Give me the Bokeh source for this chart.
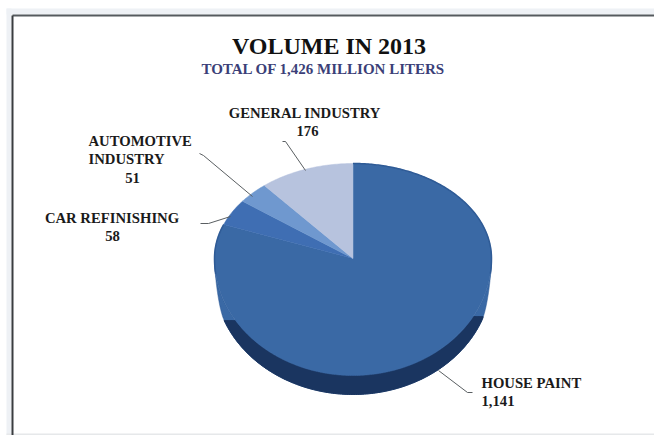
import numpy as np
from bokeh.core.properties import value
from bokeh.embed import file_html
from bokeh.models import Range1d
from bokeh.plotting import figure
from bokeh.resources import INLINE

# Annual paint volume by segment, million liters
categories = ["HOUSE PAINT", "CAR REFINISHING", "AUTOMOTIVE INDUSTRY", "GENERAL INDUSTRY"]
volumes = [1141, 58, 51, 176]
slice_colors = ["#3a69a5", "#3f6eb3", "#6f98cf", "#b7c3de"]
title_text = "VOLUME IN 2013"
subtitle_text = "TOTAL OF 1,426 MILLION LITERS"

W, H = 654, 435
CX, CY = 352.5, 258.0
RX, RY_BACK, RY_FRONT = 138.5, 95.0, 117.0
DEPTH = 19.0
BACK_SQUEEZE = 0.85  # perspective foreshortening of the far half
SERIF = value("Liberation Serif")

p = figure(width=W, height=H, output_backend="svg", toolbar_location=None,
           x_range=Range1d(0, W), y_range=Range1d(H, 0), min_border=0,
           outline_line_color=None, background_fill_color="#ffffff",
           border_fill_color="#ffffff")
p.axis.visible = False
p.grid.visible = False


def rim(theta):
    """Point on the tilted pie's rim; theta runs clockwise from 12 o'clock."""
    s, c = np.sin(theta), np.cos(theta)
    seen = np.where(c > 0, np.arctan2(BACK_SQUEEZE * s, c), theta)
    ry = np.where(c > 0, RY_BACK, RY_FRONT)
    return CX + RX * np.sin(seen), CY - ry * np.cos(seen)


def edge_depth(theta):
    """Thickness of the disc edge, fading out towards the left and right extremes."""
    d = np.minimum(theta - 1.6, 2 * np.pi - 1.6 - theta) / 0.35
    d = np.clip(d, 0, 1)
    return DEPTH * d * d * (3 - 2 * d)


# Page margin and the frame around the chart
p.quad(left=6, right=W, top=8, bottom=14, color="#eef1f5", line_color=None)
p.quad(left=6, right=11, top=8, bottom=H, color="#eef1f5", line_color=None)
p.quad(left=6, right=W, top=433, bottom=H, color="#e6e8ea", line_color=None)
p.line([12, W], [15, 15], line_color="#555a5e", line_width=2)
p.line([12, 12], [15, H], line_color="#3a3d40", line_width=2)

angles = np.cumsum([0] + volumes) / sum(volumes) * 2 * np.pi

# Edge of the disc: lit along the flanks, in shadow along the front
t = np.linspace(1.6, 2 * np.pi - 1.6, 240)
x, y = rim(t)
outer = y + edge_depth(t)
p.patch(np.r_[x, x[::-1]], np.r_[outer, y[::-1]], color=slice_colors[0], line_color="#2f5b96", line_width=0.5)

shade_top = np.where(x < CX, 320.0, 316.0)
lit = outer >= shade_top
p.patch(np.r_[x[lit], x[lit][::-1]],
        np.r_[outer[lit], np.maximum(y, shade_top)[lit][::-1]],
        color="#1a3560", line_color="#1a3560")

# Top face, one wedge per segment
for a0, a1, color in zip(angles[:-1], angles[1:], slice_colors):
    t = np.linspace(a0, a1, max(4, int((a1 - a0) * 60)))
    x, y = rim(t)
    p.patch(np.r_[CX, x], np.r_[CY, y], color=color, line_color=color, line_width=0.5)

# Slightly darker lip along the far rim of the largest slice
t = np.linspace(angles[0], 1.7, 120)
x, y = rim(t)
p.line(x, y, line_color="#2f5b96", line_width=1.5)
t = np.linspace(4.58, angles[1], 60)
x, y = rim(t)
p.line(x, y, line_color="#2f5b96", line_width=1.5)

# Leader lines from labels to slices
leaders = [
    ([438, 467, 472], [370, 392, 392]),
    ([200, 208, 230], [223, 223, 216]),
    ([199, 203, 252], [153, 155, 196]),
    ([282, 285, 305], [141, 141, 170]),
]
for lx, ly in leaders:
    p.line(lx, ly, line_color="#5a5f62", line_width=1)

# Headings
p.text([328.5], [45], text=[title_text], text_font=SERIF, text_font_style="bold",
       text_font_size="24px", text_color="#111111", text_align="center", text_baseline="middle")
p.text([323], [68], text=[subtitle_text], text_font=SERIF, text_font_style="bold",
       text_font_size="15px", text_color="#3b3f78", text_align="center", text_baseline="middle")

# Slice labels
house, car, auto, general = volumes
auto_first, auto_second = categories[2].split(" ")
labels = [
    (481, 382, categories[0], "left"),
    (481, 400, f"{house:,}", "left"),
    (111.5, 217, categories[1], "center"),
    (112, 235, f"{car}", "center"),
    (88, 140, auto_first, "left"),
    (88, 158, auto_second, "left"),
    (132, 177, f"{auto}", "center"),
    (304.5, 112, categories[3], "center"),
    (307, 130, f"{general}", "center"),
]
for lx, ly, text, align in labels:
    p.text([lx], [ly], text=[text], text_font=SERIF, text_font_style="bold",
           text_font_size="14.7px", text_color="#1a1a1a", text_align=align, text_baseline="middle")

open("out.html", "w").write(file_html(p, INLINE))
